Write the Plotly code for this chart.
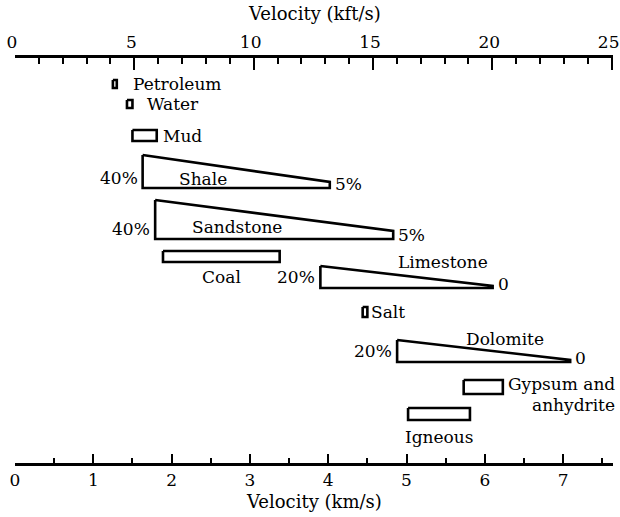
import plotly.graph_objects as go

# ---- data (velocities in km/s) ----
materials = ["Petroleum", "Water", "Mud", "Shale", "Sandstone", "Coal",
             "Limestone", "Salt", "Dolomite", "Gypsum and anhydrite", "Igneous"]
v_min = [1.25, 1.43, 1.50, 1.63, 1.79, 1.89, 3.90, 4.44, 4.88, 5.73, 5.02]
v_max = [1.30, 1.50, 1.81, 4.02, 4.83, 3.38, 6.10, 4.50, 7.09, 6.23, 5.81]
shape_kind = ["rect", "rect", "rect", "wedge", "wedge", "rect",
              "wedge", "rect", "wedge", "rect", "rect"]
porosity_low_v = ["", "", "", "40%", "40%", "", "20%", "", "20%", "", ""]
porosity_high_v = ["", "", "", "5%", "5%", "", "0", "", "0", "", ""]

km_ticks = [0, 1, 2, 3, 4, 5, 6, 7]
kft_ticks = [0, 5, 10, 15, 20, 25]
KFT_PER_KM = 1 / 0.3048

# ---- layout of rows (vertical positions, styles) ----
row_top = [80, 100, 130, 155, 200, 251, 266, 307, 340, 380, 408]
row_bot = [88, 108, 141, 188, 239, 262, 288, 317, 362, 394, 420]
tip_h = [0, 0, 0, 6, 8, 0, 2, 0, 2, 0, 0]

FONT = "DejaVu Serif"
X_MAX = 7.637

fig = go.Figure()

for i, name in enumerate(materials):
    a, b = v_min[i], v_max[i]
    t, bt = row_top[i], row_bot[i]
    if shape_kind[i] == "rect":
        xs = [a, b, b, a, a]
        ys = [t, t, bt, bt, t]
    else:
        xs = [a, b, b, a, a]
        ys = [t, bt - tip_h[i], bt, bt, t]
    fig.add_trace(go.Scatter(x=xs, y=ys, mode="lines", fill="toself",
                             fillcolor="white",
                             line=dict(color="black", width=2.6),
                             hoverinfo="skip", showlegend=False))

ann = []
def add(text, x, y, xanchor="center", xshift=0, size=17, xref="x", yref="y"):
    ann.append(dict(text=text, x=x, y=y, xref=xref, yref=yref, showarrow=False,
                    xanchor=xanchor, yanchor="middle", xshift=xshift,
                    font=dict(family=FONT, size=size, color="black")))

mid = lambda i: (row_top[i] + row_bot[i]) / 2

# simple labels to the right
add("Petroleum", v_max[0], mid(0), "left", 14)
add("Water", v_max[1], mid(1), "left", 13)
add("Mud", v_max[2], mid(2), "left", 4)
add("Salt", v_max[7], mid(7), "left", 2)
add("Gypsum and", v_max[9], 384, "left", 3)
add("anhydrite", 7.13, 405)
add("Coal", (v_min[5] + v_max[5]) / 2, 277)
add("Igneous", (v_min[10] + v_max[10]) / 2, 437)

# wedge labels
wedge_name_pos = {3: (2.40, 179), 4: (2.84, 227), 6: (5.47, 262), 8: (6.26, 339)}
for i, (nx, ny) in wedge_name_pos.items():
    add(materials[i], nx, ny)
    yl = row_bot[i] - 10 if i in (3, 4) else mid(i)
    add(porosity_low_v[i], v_min[i], yl, "right", -3)
    add(porosity_high_v[i], v_max[i], row_bot[i] - 4, "left", 3)

# axis titles (placed in paper coordinates)
add("Velocity (kft/s)", 0.5, 1.0, xref="paper", yref="paper", size=18)
ann[-1].update(yanchor="bottom", yshift=32)
add("Velocity (km/s)", 0.5, 0.0, xref="paper", yref="paper", size=18)
ann[-1].update(yanchor="top", yshift=-26)

fig.update_layout(
    width=620, height=517,
    margin=dict(l=15, r=7, t=58, b=54, autoexpand=False),
    paper_bgcolor="white", plot_bgcolor="white",
    annotations=ann,
    font=dict(family=FONT, size=17, color="black"),
    xaxis=dict(range=[0, X_MAX], tickvals=km_ticks, ticks="inside",
               ticklen=9, tickwidth=2, tickcolor="black",
               minor=dict(dtick=0.5, ticks="inside", ticklen=5,
                          tickwidth=1.5, tickcolor="black"),
               showline=True, linewidth=3, linecolor="black",
               showgrid=False, zeroline=False, automargin=False,
               ticklabeloverflow="allow",
               tickfont=dict(family=FONT, size=17)),
    xaxis2=dict(range=[0, X_MAX * KFT_PER_KM], overlaying="x", side="top",
                anchor="y", tickvals=kft_ticks, ticks="inside",
                ticklen=12, tickwidth=2, tickcolor="black",
                minor=dict(dtick=1, ticks="inside", ticklen=6,
                           tickwidth=1.5, tickcolor="black"),
                showline=True, linewidth=3, linecolor="black",
                showgrid=False, zeroline=False, automargin=False,
                ticklabeloverflow="allow", ticklabelshift=-3,
                tickfont=dict(family=FONT, size=17)),
    yaxis=dict(range=[463, 58], visible=False, showgrid=False,
               zeroline=False, automargin=False),
)
# invisible trace to activate top axis
fig.add_trace(go.Scatter(x=[0, 25], y=[-1000, -1000], xaxis="x2", mode="markers",
                         marker=dict(opacity=0), hoverinfo="skip",
                         showlegend=False))

fig.write_html("out.html",
               config={"displayModeBar": False},
               post_script="document.body.style.margin='0';"
                           "document.body.style.overflow='hidden';")
